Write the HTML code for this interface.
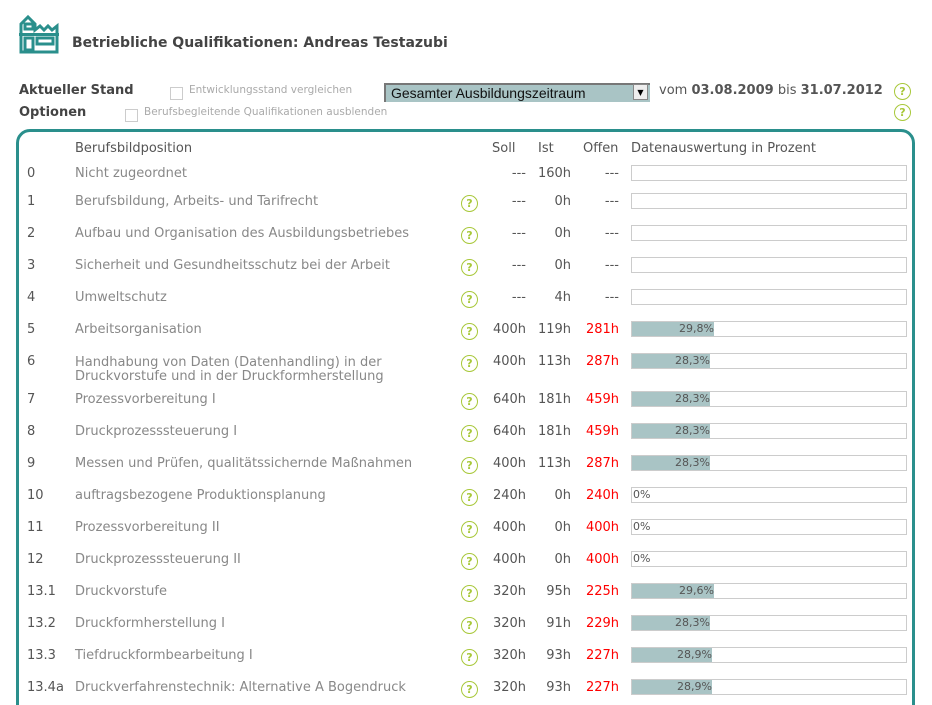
<!DOCTYPE html>
<html style="overflow:hidden;height:705px"><head><meta charset="utf-8"><style>
body{margin:0;width:932px;height:705px;overflow:hidden;background:#fff;font-family:"DejaVu Sans",Verdana,sans-serif;position:relative}
.a{position:absolute;white-space:nowrap}
.q{position:absolute;width:15px;height:15px;border:1.5px solid #a8c83a;border-radius:50%;color:#a8c83a;font-size:11px;font-weight:bold;text-align:center;line-height:15px}
.lbl{color:#888;font-size:13px}
.num{color:#555;font-size:13px}
.r{text-align:right}
.red{color:#f00}
.bar{position:absolute;left:631px;width:274px;height:14px;border:1px solid #ccc;background:#fff}
.fill{position:absolute;left:0;top:0;height:14px;background:#a9c4c5;font-size:11px;color:#555;text-align:right;line-height:14px}
</style></head><body>
<svg class="a" style="left:19px;top:14px" width="44" height="40" viewBox="0 0 44 40">
<g fill="none" stroke="#2a8f8c" stroke-width="3"><path d="M2 38V10L9 3L16 10V16L21 12L25 16L29 12L33 16L38 12V38Z"/><rect x="6" y="10" width="8" height="5"/><rect x="6" y="24" width="8" height="12"/><rect x="18" y="24" width="16" height="6"/></g>
<rect x="0" y="19" width="40" height="3" fill="#2a8f8c"/></svg>
<div class="a" style="left:72px;top:35px;font-size:14px;font-weight:bold;color:#444">Betriebliche Qualifikationen: Andreas Testazubi</div>
<div class="a" style="left:19px;top:83px;font-size:13px;font-weight:bold;color:#444">Aktueller Stand</div>
<div class="a" style="left:19px;top:105px;font-size:13px;font-weight:bold;color:#444">Optionen</div>
<div class="a" style="left:170px;top:87px;width:11px;height:11px;border:1px solid #ccc"></div>
<div class="a" style="left:189px;top:84px;font-size:10.5px;color:#aaa">Entwicklungsstand vergleichen</div>
<div class="a" style="left:125px;top:109px;width:11px;height:11px;border:1px solid #ccc"></div>
<div class="a" style="left:144px;top:106px;font-size:10.5px;color:#aaa">Berufsbegleitende Qualifikationen ausblenden</div>
<div class="a" style="left:384px;top:83px;width:266px;height:19px;background:#a9c4c5;border-top:2px solid #777;border-left:2px solid #777;box-sizing:border-box"></div>
<div class="a" style="left:391px;top:85px;font-family:'Liberation Sans',Arial,sans-serif;font-size:14px;color:#111">Gesamter Ausbildungszeitraum</div>
<div class="a" style="left:633px;top:84px;width:15px;height:16px;background:#eee;border:1px solid #888;box-sizing:border-box;font-size:8px;text-align:center;line-height:15px">▼</div>
<div class="a" style="left:659px;top:83px;font-size:13px;color:#555">vom <b>03.08.2009</b> bis <b>31.07.2012</b></div>
<div class="q" style="left:894px;top:83px">?</div>
<div class="q" style="left:894px;top:104px">?</div>
<div class="a" style="left:16px;top:129px;width:893px;height:590px;border:3px solid #2a8f8c;border-radius:14px 14px 0 0"></div>
<div class="a num" style="left:75px;top:141px">Berufsbildposition</div>
<div class="a num" style="left:492px;top:141px">Soll</div>
<div class="a num" style="left:538px;top:141px">Ist</div>
<div class="a num" style="left:583px;top:141px">Offen</div>
<div class="a num" style="left:631px;top:141px">Datenauswertung in Prozent</div>
<div id="rows"></div>
<script>
var d=[["0","Nicht zugeordnet",166,0,"---","160h","---",null],
["1","Berufsbildung, Arbeits- und Tarifrecht",194,1,"---","0h","---",null],
["2","Aufbau und Organisation des Ausbildungsbetriebes",226,1,"---","0h","---",null],
["3","Sicherheit und Gesundheitsschutz bei der Arbeit",258,1,"---","0h","---",null],
["4","Umweltschutz",290,1,"---","4h","---",null],
["5","Arbeitsorganisation",322,1,"400h","119h","281h",29.8],
["6","Handhabung von Daten (Datenhandling) in der<br>Druckvorstufe und in der Druckformherstellung",354,1,"400h","113h","287h",28.3],
["7","Prozessvorbereitung I",392,1,"640h","181h","459h",28.3],
["8","Druckprozesssteuerung I",424,1,"640h","181h","459h",28.3],
["9","Messen und Prüfen, qualitätssichernde Maßnahmen",456,1,"400h","113h","287h",28.3],
["10","auftragsbezogene Produktionsplanung",488,1,"240h","0h","240h",0],
["11","Prozessvorbereitung II",520,1,"400h","0h","400h",0],
["12","Druckprozesssteuerung II",552,1,"400h","0h","400h",0],
["13.1","Druckvorstufe",584,1,"320h","95h","225h",29.6],
["13.2","Druckformherstellung I",616,1,"320h","91h","229h",28.3],
["13.3","Tiefdruckformbearbeitung I",648,1,"320h","93h","227h",28.9],
["13.4a","Druckverfahrenstechnik: Alternative A Bogendruck",680,1,"320h","93h","227h",28.9]];
var h="";
d.forEach(function(r){var y=r[2];
h+='<div class="a num" style="left:27px;top:'+y+'px">'+r[0]+'</div>';
h+='<div class="a lbl" style="left:75px;top:'+y+'px;line-height:14px;margin-top:'+(r[1].indexOf("<br>")>0?2:1)+'px">'+r[1]+'</div>';
if(r[3])h+='<div class="q" style="left:461px;top:'+(y+1)+'px">?</div>';
var red=r[6]!="---"?" red":"";
h+='<div class="a num r" style="left:466px;width:60px;top:'+y+'px">'+r[4]+'</div>';
h+='<div class="a num r" style="left:511px;width:60px;top:'+y+'px">'+r[5]+'</div>';
h+='<div class="a num r'+red+'" style="left:559px;width:60px;top:'+y+'px">'+r[6]+'</div>';
var inner="";
if(r[7]!==null){if(r[7]>0)inner='<div class="fill" style="width:'+Math.round(276*r[7]/100)+'px">'+r[7].toFixed(1).replace(".",",")+'%</div>';
else inner='<div style="font-size:11px;color:#555;line-height:14px;padding-left:1px">0%</div>';}
h+='<div class="bar" style="top:'+(y-1)+'px">'+inner+'</div>';});
document.getElementById("rows").innerHTML=h;
</script>
</body></html>
